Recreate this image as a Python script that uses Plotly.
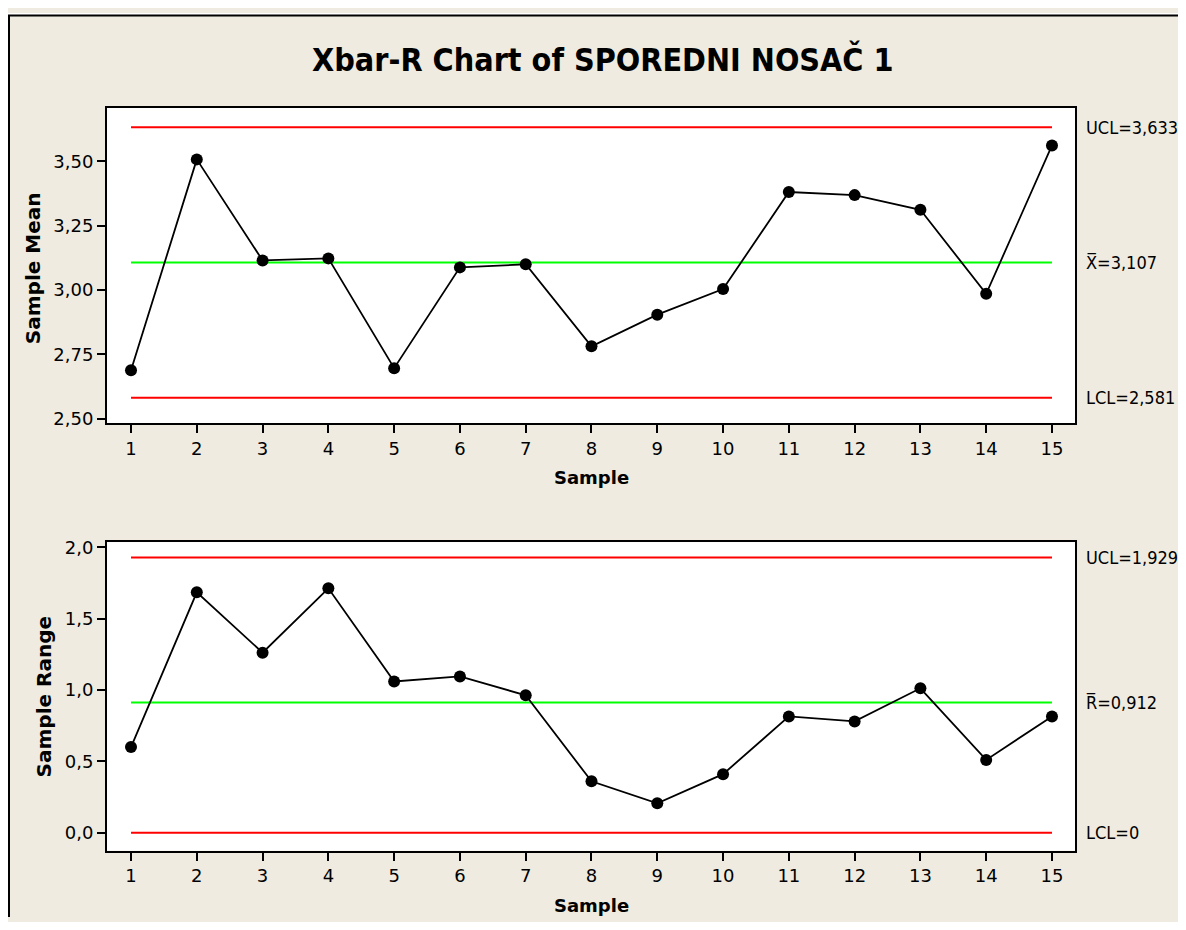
import plotly.graph_objects as go

samples = list(range(1, 16))
sample_means = [2.688, 3.508, 3.115, 3.123, 2.696, 3.088, 3.100, 2.781, 2.904, 3.004,
                3.381, 3.369, 3.312, 2.985, 3.562]
sample_ranges = [0.60, 1.685, 1.262, 1.713, 1.060, 1.095, 0.963, 0.360, 0.206, 0.410,
                 0.815, 0.780, 1.012, 0.510, 0.815]
xbar_ucl, xbar_cl, xbar_lcl = 3.633, 3.107, 2.581
r_ucl, r_cl, r_lcl = 1.929, 0.912, 0.0
xbar_labels = ["UCL=3,633", "X\u0305=3,107", "LCL=2,581"]
r_labels = ["UCL=1,929", "R\u0305=0,912", "LCL=0"]
title = "Xbar-R Chart of SPOREDNI NOSAČ 1"

OFF = 8  # page body margin
W, H = 1186 - 2 * OFF, 930 - 2 * OFF
FONT = "DejaVu Sans, sans-serif"
TFONT = "DejaVu Sans Condensed, DejaVu Sans, sans-serif"
BG = "#EFEBE0"

def px(x):
    return (x - OFF) / W

def py(y):
    return 1 - (y - OFF) / H

fig = go.Figure()

xr = [samples[0], samples[-1]]
for yref, (u, c, l), vals in [("y", (xbar_ucl, xbar_cl, xbar_lcl), sample_means),
                              ("y2", (r_ucl, r_cl, r_lcl), sample_ranges)]:
    xa = "x" if yref == "y" else "x2"
    fig.add_trace(go.Scatter(x=xr, y=[u, u], mode="lines", line=dict(color="#FF0000", width=2),
                             xaxis=xa, yaxis=yref, hoverinfo="skip"))
    fig.add_trace(go.Scatter(x=xr, y=[l, l], mode="lines", line=dict(color="#FF0000", width=2),
                             xaxis=xa, yaxis=yref, hoverinfo="skip"))
    fig.add_trace(go.Scatter(x=xr, y=[c, c], mode="lines", line=dict(color="#00FF00", width=2),
                             xaxis=xa, yaxis=yref, hoverinfo="skip"))
    fig.add_trace(go.Scatter(x=samples, y=vals, mode="lines+markers",
                             line=dict(color="black", width=1.8),
                             marker=dict(color="black", size=12),
                             xaxis=xa, yaxis=yref))

axis_common = dict(showline=True, linecolor="black", linewidth=2, mirror=True,
                   ticks="outside", ticklen=8, tickwidth=2, tickcolor="black",
                   showgrid=False, zeroline=False,
                   tickfont=dict(family=FONT, size=18, color="black"))

fig.update_layout(
    width=W, height=H,
    margin=dict(l=0, r=0, t=0, b=0),
    paper_bgcolor=BG, plot_bgcolor="white",
    showlegend=False,
    separators=", ",
    xaxis=dict(domain=[px(107), px(1075)], range=[0.635, 15.35], tickmode="array",
               tickvals=samples, anchor="y", **axis_common),
    yaxis=dict(domain=[py(423), py(104)], range=[2.481, 3.708], tickmode="array",
               tickvals=[2.5, 2.75, 3.0, 3.25, 3.5], tickformat=".2f", anchor="x", **axis_common),
    xaxis2=dict(domain=[px(107), px(1075)], range=[0.635, 15.35], tickmode="array",
                tickvals=samples, anchor="y2", **axis_common),
    yaxis2=dict(domain=[py(855), py(543)], range=[-0.127, 2.037], tickmode="array",
                tickvals=[0, 0.5, 1.0, 1.5, 2.0], tickformat=".1f", anchor="x2", **axis_common),
)

ann = []
ann.append(dict(text="<b>" + title + "</b>", x=px(603), y=py(55), xref="paper", yref="paper",
                showarrow=False, font=dict(family=TFONT, size=32, color="black"),
                xanchor="center", yanchor="middle"))
for yv in [478, 910]:
    ann.append(dict(text="<b>Sample</b>", x=px(591), y=py(yv), xref="paper", yref="paper",
                    showarrow=False, font=dict(family=FONT, size=18, color="black"),
                    xanchor="center", yanchor="middle"))
ann.append(dict(text="<b>Sample Mean</b>", x=px(33), y=py(266), xref="paper", yref="paper",
                showarrow=False, textangle=-90, font=dict(family=FONT, size=20, color="black"),
                xanchor="center", yanchor="middle"))
ann.append(dict(text="<b>Sample Range</b>", x=px(44), y=py(700), xref="paper", yref="paper",
                showarrow=False, textangle=-90, font=dict(family=FONT, size=20, color="black"),
                xanchor="center", yanchor="middle"))
for yref, vals, labels in [("y", (xbar_ucl, xbar_cl, xbar_lcl), xbar_labels),
                           ("y2", (r_ucl, r_cl, r_lcl), r_labels)]:
    for v, t in zip(vals, labels):
        ann.append(dict(text=t, x=px(1084), y=v, xref="paper", yref=yref, showarrow=False,
                        font=dict(family=TFONT, size=18, color="black"),
                        xanchor="left", yanchor="middle"))
fig.update_layout(annotations=ann)

shapes = [
    dict(type="rect", xref="paper", yref="paper", x0=0, x1=1, y0=py(10), y1=1,
         fillcolor="white", line=dict(width=0), layer="above"),
    dict(type="line", xref="paper", yref="paper", x0=px(8), x1=1, y0=py(10.5), y1=py(10.5),
         line=dict(color="black", width=2), layer="above"),
    dict(type="line", xref="paper", yref="paper", x0=px(9), x1=px(9), y0=0, y1=py(10),
         line=dict(color="black", width=2), layer="above"),
]
fig.update_layout(shapes=shapes)

fig.write_html("out.html")
